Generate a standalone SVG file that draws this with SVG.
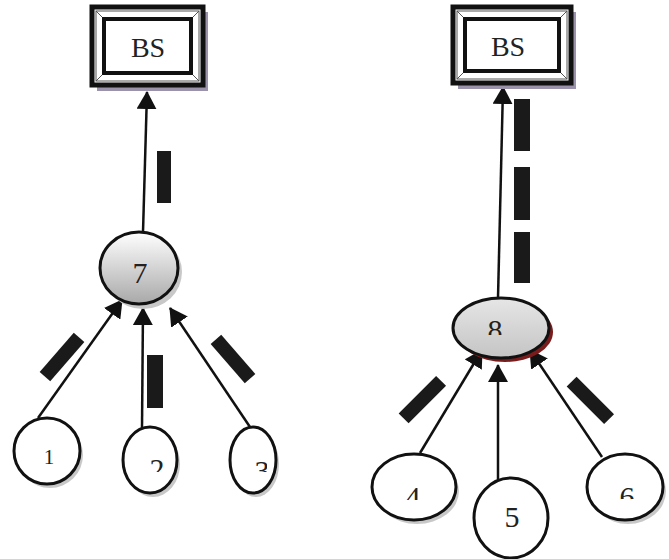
<svg xmlns="http://www.w3.org/2000/svg" width="669" height="559" viewBox="0 0 669 559">
<defs>
<style>
.txt{font-family:"Liberation Serif","Times New Roman",serif;fill:#222;text-anchor:middle}
.bs{font-size:28px}
.num{font-size:30px}
.outer{fill:#fff;stroke:#111;stroke-width:5}
.bevel{fill:none;stroke:#555;stroke-width:1}
.inner{fill:#fff;stroke:#111;stroke-width:4}
.shadow{fill:#9b92ab}
.nshadow{fill:#c8c8c8}
.leaf{fill:#fff;stroke:#111;stroke-width:3}
.edge{stroke:#111;stroke-width:2.5;fill:none;marker-end:url(#arr)}
.dash{fill:#1a1a1a}
</style>
<marker id="arr" viewBox="0 0 18 20" markerWidth="18" markerHeight="20" refX="17" refY="10" orient="auto" markerUnits="userSpaceOnUse">
<path d="M0,0 L18,10 L0,20 z" fill="#111"/>
</marker>
<linearGradient id="g7" x1="0" y1="0" x2="0" y2="1">
<stop offset="0" stop-color="#ffffff"/>
<stop offset="1" stop-color="#a8a8a8"/>
</linearGradient>
<linearGradient id="g8" x1="0" y1="0" x2="0" y2="1">
<stop offset="0" stop-color="#e6e6e6"/>
<stop offset="1" stop-color="#c4c4c4"/>
</linearGradient>
<clipPath id="c2"><rect x="120" y="440" width="60" height="32"/></clipPath>
<clipPath id="c3"><rect x="230" y="440" width="37" height="32"/></clipPath>
<clipPath id="c4"><rect x="380" y="470" width="60" height="30"/></clipPath>
<clipPath id="c6"><rect x="595" y="470" width="60" height="29"/></clipPath>
<clipPath id="c8"><rect x="470" y="305" width="60" height="30"/></clipPath>
</defs>

<g id="connectors">
<line class="edge" x1="143" y1="232" x2="147" y2="92"/>
<line class="edge" x1="38" y1="418" x2="122" y2="300"/>
<line class="edge" x1="142" y1="428" x2="143" y2="308"/>
<line class="edge" x1="252" y1="430" x2="170" y2="308"/>
<line class="edge" x1="498" y1="298" x2="503" y2="87"/>
<line class="edge" x1="420" y1="453" x2="482" y2="350"/>
<line class="edge" x1="498" y1="480" x2="498" y2="365"/>
<line class="edge" x1="602" y1="457" x2="530" y2="350"/>
<rect class="dash" x="157" y="151" width="14" height="52"/>
<rect class="dash" x="147" y="355" width="16" height="53"/>
<rect class="dash" x="-26" y="-7" width="52" height="14" transform="translate(62,357) rotate(-49)"/>
<rect class="dash" x="-26" y="-7" width="52" height="14" transform="translate(233,359) rotate(49)"/>
<rect class="dash" x="514" y="99" width="16" height="52"/>
<rect class="dash" x="514" y="167" width="16" height="53"/>
<rect class="dash" x="514" y="232" width="16" height="51"/>
<rect class="dash" x="-26" y="-7" width="53" height="14" transform="translate(422,400) rotate(-45)"/>
<rect class="dash" x="-26" y="-7" width="53" height="14" transform="translate(590,400) rotate(45)"/>
</g>

<g id="bs-left">
<rect class="shadow" x="97" y="12" width="111" height="79"/>
<rect class="outer" x="92" y="7" width="111" height="78"/>
<rect class="bevel" x="96" y="11" width="103" height="70"/>
<line class="bevel" x1="96" y1="11" x2="104" y2="19"/>
<line class="bevel" x1="199" y1="11" x2="191" y2="19"/>
<line class="bevel" x1="96" y1="81" x2="104" y2="73"/>
<line class="bevel" x1="199" y1="81" x2="191" y2="73"/>
<rect class="inner" x="104" y="19" width="87" height="54"/>
<text class="txt bs" x="148" y="57">BS</text>
</g>

<g id="bs-right">
<rect class="shadow" x="458" y="12" width="118" height="77"/>
<rect class="outer" x="453" y="7" width="118" height="76"/>
<rect class="bevel" x="457" y="11" width="110" height="68"/>
<line class="bevel" x1="457" y1="11" x2="465" y2="19"/>
<line class="bevel" x1="567" y1="11" x2="559" y2="19"/>
<line class="bevel" x1="457" y1="79" x2="465" y2="71"/>
<line class="bevel" x1="567" y1="79" x2="559" y2="71"/>
<rect class="inner" x="465" y="19" width="94" height="52"/>
<text class="txt bs" x="508" y="56">BS</text>
</g>

<g id="node-7">
<ellipse class="nshadow" cx="143" cy="272" rx="39" ry="37"/>
<ellipse cx="139" cy="268" rx="39" ry="36" fill="url(#g7)" stroke="#111" stroke-width="3"/>
<text class="txt num" x="140" y="283">7</text>
</g>

<g id="node-8">
<ellipse cx="505" cy="332" rx="48" ry="30" fill="#7a1c1c"/>
<ellipse cx="501" cy="328" rx="48" ry="30" fill="url(#g8)" stroke="#111" stroke-width="3"/>
<text class="txt num" x="495" y="340" clip-path="url(#c8)">8</text>
</g>

<g id="node-1">
<ellipse class="nshadow" cx="50" cy="455" rx="33" ry="33"/>
<ellipse class="leaf" cx="47" cy="451" rx="33" ry="33"/>
<text class="txt" x="49" y="464" style="font-size:21px">1</text>
</g>

<g id="node-2">
<ellipse class="nshadow" cx="153" cy="464" rx="27" ry="33"/>
<ellipse class="leaf" cx="150" cy="460" rx="27" ry="33"/>
<text class="txt num" x="157" y="479" clip-path="url(#c2)">2</text>
</g>

<g id="node-3">
<ellipse class="nshadow" cx="256" cy="464" rx="23" ry="33"/>
<ellipse class="leaf" cx="253" cy="460" rx="23" ry="33"/>
<text class="txt num" x="262" y="481" clip-path="url(#c3)">3</text>
</g>

<g id="node-4">
<ellipse class="nshadow" cx="417" cy="491" rx="42" ry="33"/>
<ellipse class="leaf" cx="414" cy="487" rx="42" ry="33"/>
<text class="txt num" x="413" y="507" clip-path="url(#c4)">4</text>
</g>

<g id="node-5">
<ellipse class="leaf" cx="511" cy="518" rx="37" ry="40"/>
<text class="txt num" x="512" y="527">5</text>
</g>

<g id="node-6">
<ellipse class="nshadow" cx="628" cy="491" rx="38" ry="33"/>
<ellipse class="leaf" cx="625" cy="487" rx="38" ry="33"/>
<text class="txt num" x="627" y="507" clip-path="url(#c6)">6</text>
</g>
</svg>
